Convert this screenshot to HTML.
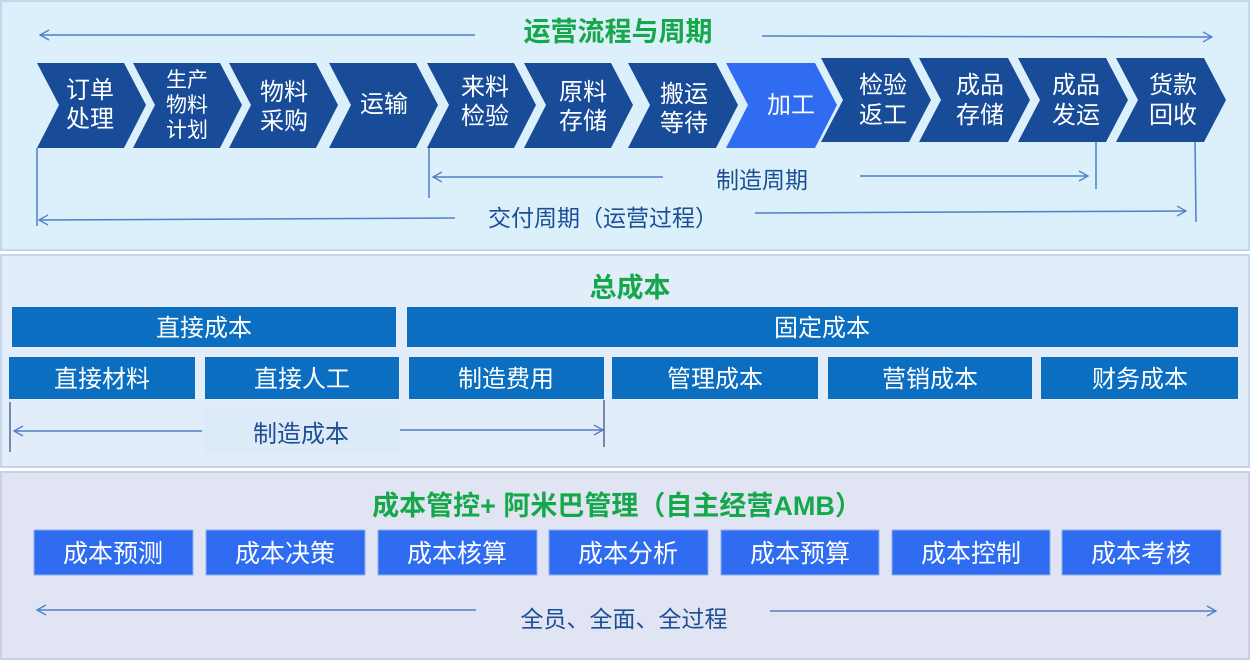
<!DOCTYPE html>
<html><head><meta charset="utf-8"><style>
html,body{margin:0;padding:0;background:#fff;}
svg{display:block;font-family:"Liberation Sans","Noto Sans CJK SC",sans-serif;}
</style></head><body>
<svg width="1250" height="660" viewBox="0 0 1250 660" xmlns="http://www.w3.org/2000/svg">
<defs>
<marker id="ar" markerWidth="12" markerHeight="12" refX="10" refY="6" orient="auto" markerUnits="userSpaceOnUse">
<path d="M1,1 L10,6 L1,11" fill="none" stroke="#4f7fc8" stroke-width="1.3"/>
</marker>
</defs>
<rect x="1" y="1" width="1248" height="249" fill="#dcf0fb" stroke="#bcd9ee" stroke-width="2"/>
<rect x="1" y="255" width="1248" height="212" fill="#e3ecf9" stroke="#c7d5ea" stroke-width="2"/>
<rect x="1" y="472" width="1248" height="187" fill="#e1e5f3" stroke="#c9d0e6" stroke-width="2"/>

<g stroke="#4f7fc8" stroke-width="1.5" fill="none">
<line x1="475" y1="35" x2="40" y2="35" marker-end="url(#ar)"/>
<line x1="762" y1="36" x2="1212" y2="37" marker-end="url(#ar)"/>
<line x1="663" y1="177" x2="433" y2="177" marker-end="url(#ar)"/>
<line x1="860" y1="176" x2="1088" y2="176" marker-end="url(#ar)"/>
<line x1="455" y1="218" x2="39" y2="220" marker-end="url(#ar)"/>
<line x1="755" y1="213" x2="1186" y2="211" marker-end="url(#ar)"/>
<line x1="37" y1="148" x2="37" y2="226"/>
<line x1="429" y1="146" x2="429" y2="198"/>
<line x1="1096" y1="140" x2="1096" y2="189"/>
<line x1="1195" y1="140" x2="1196" y2="222"/>
</g>
<text x="618" y="41" font-size="27" font-weight="bold" fill="#14a84a" text-anchor="middle">运营流程与周期</text>
<text x="762" y="188" font-size="23" fill="#1c4e96" text-anchor="middle">制造周期</text>
<text x="603" y="226" font-size="23" fill="#1c4e96" text-anchor="middle">交付周期（运营过程）</text>

<g fill="#184c99">
<polygon points="37,63 124,63 146,105 124,148 37,148 59,105"/>
<polygon points="133,63 220,63 242,105 220,148 133,148 155,105"/>
<polygon points="229,63 316,63 338,105 316,148 229,148 251,105"/>
<polygon points="329,63 416,63 438,105 416,148 329,148 351,105"/>
<polygon points="427,63 514,63 536,105 514,148 427,148 449,105"/>
<polygon points="524,63 611,63 633,105 611,148 524,148 546,105"/>
<polygon points="628,63 716,63 738,105 716,148 628,148 650,105"/>
<polygon points="726,63 815,63 837,105 815,148 726,148 748,105" fill="#2f6cf2"/>
<polygon points="821,58 909,58 931,100 909,142 821,142 843,100"/>
<polygon points="919,58 1008,58 1030,100 1008,142 919,142 941,100"/>
<polygon points="1018,58 1106,58 1128,100 1106,142 1018,142 1040,100"/>
<polygon points="1116,58 1204,58 1226,100 1204,142 1116,142 1138,100"/>
</g>
<g fill="#fff" font-size="24" text-anchor="middle">
<text x="90" y="98">订单</text><text x="90" y="127">处理</text>
<text x="187" y="87" font-size="21">生产</text><text x="187" y="112" font-size="21">物料</text><text x="187" y="137" font-size="21">计划</text>
<text x="284" y="100">物料</text><text x="284" y="129">采购</text>
<text x="384" y="112">运输</text>
<text x="485" y="95">来料</text><text x="485" y="124">检验</text>
<text x="583" y="100">原料</text><text x="583" y="129">存储</text>
<text x="684" y="102">搬运</text><text x="684" y="131">等待</text>
<text x="791" y="113">加工</text>
<text x="883" y="93">检验</text><text x="883" y="123">返工</text>
<text x="980" y="93">成品</text><text x="980" y="123">存储</text>
<text x="1076" y="93">成品</text><text x="1076" y="123">发运</text>
<text x="1173" y="93">货款</text><text x="1173" y="123">回收</text>
</g>

<text x="630" y="297" font-size="27" font-weight="bold" fill="#14a84a" text-anchor="middle">总成本</text>
<g fill="#0b6ec0">
<rect x="12" y="307" width="384" height="40"/>
<rect x="407" y="307" width="831" height="40"/>
<rect x="9" y="357" width="186" height="42"/>
<rect x="205" y="357" width="194" height="42"/>
<rect x="409" y="357" width="195" height="42"/>
<rect x="612" y="357" width="206" height="42"/>
<rect x="828" y="357" width="204" height="42"/>
<rect x="1041" y="357" width="197" height="42"/>
</g>
<g fill="#fff" font-size="24" text-anchor="middle">
<text x="204" y="336">直接成本</text>
<text x="822" y="336">固定成本</text>
<text x="102" y="387">直接材料</text>
<text x="302" y="387">直接人工</text>
<text x="506" y="387">制造费用</text>
<text x="715" y="387">管理成本</text>
<text x="930" y="387">营销成本</text>
<text x="1140" y="387">财务成本</text>
</g>
<rect x="203" y="408" width="197" height="46" fill="#dcebf7"/>
<g stroke="#4f7fc8" stroke-width="1.5" fill="none">
<line x1="202" y1="431" x2="14" y2="431" marker-end="url(#ar)"/>
<line x1="400" y1="430" x2="603" y2="430" marker-end="url(#ar)"/>
</g>
<line x1="10" y1="402" x2="10" y2="452" stroke="#2a4a80" stroke-width="1.2"/>
<line x1="604" y1="400" x2="604" y2="447" stroke="#2a4a80" stroke-width="1.2"/>
<text x="301" y="442" font-size="24" fill="#1c4e96" text-anchor="middle">制造成本</text>

<text x="617" y="515" font-size="27" font-weight="bold" fill="#14a84a" text-anchor="middle">成本管控+ 阿米巴管理（自主经营AMB）</text>
<g fill="#2f6cf2" stroke="#8fb0f0" stroke-width="1">
<rect x="34" y="530" width="159" height="45"/>
<rect x="206" y="530" width="159" height="45"/>
<rect x="378" y="530" width="159" height="45"/>
<rect x="549" y="530" width="159" height="45"/>
<rect x="721" y="530" width="158" height="45"/>
<rect x="892" y="530" width="158" height="45"/>
<rect x="1062" y="530" width="159" height="45"/>
</g>
<g fill="#fff" font-size="25" text-anchor="middle">
<text x="113" y="562">成本预测</text>
<text x="285" y="562">成本决策</text>
<text x="457" y="562">成本核算</text>
<text x="628" y="562">成本分析</text>
<text x="800" y="562">成本预算</text>
<text x="971" y="562">成本控制</text>
<text x="1141" y="562">成本考核</text>
</g>
<g stroke="#4f7fc8" stroke-width="1.5" fill="none">
<line x1="476" y1="610" x2="37" y2="610" marker-end="url(#ar)"/>
<line x1="770" y1="611" x2="1216" y2="611" marker-end="url(#ar)"/>
</g>
<text x="624" y="627" font-size="23" fill="#1c4e96" text-anchor="middle">全员、全面、全过程</text>
</svg>
</body></html>
